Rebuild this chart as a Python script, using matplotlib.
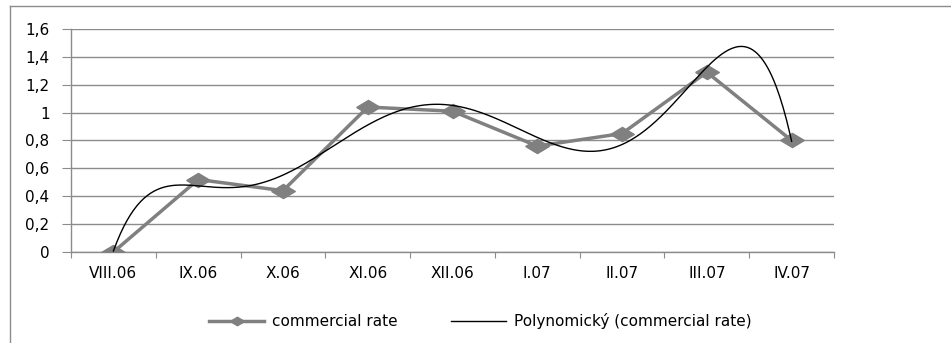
import numpy as np
import matplotlib.pyplot as plt
from matplotlib.lines import Line2D

months = ["VIII.06", "IX.06", "X.06", "XI.06", "XII.06", "I.07", "II.07", "III.07", "IV.07"]
commercial_rate = [0.0, 0.52, 0.44, 1.04, 1.01, 0.76, 0.85, 1.29, 0.80]
y_ticks = [0, 0.2, 0.4, 0.6, 0.8, 1.0, 1.2, 1.4, 1.6]
y_labels = ["0", "0,2", "0,4", "0,6", "0,8", "1", "1,2", "1,4", "1,6"]

plt.rcParams["font.family"] = ["DejaVu Sans"]
grey = "#808080"
axis_grey = "#8c8c8c"
fs = 11

# flattened diamond marker
wide_diamond = [(-1, 0), (0, 0.6), (1, 0), (0, -0.6), (-1, 0)]

fig = plt.figure(figsize=(9.51, 3.43), dpi=100)
ax = fig.add_axes([0.0747, 0.2653, 0.8023, 0.6502])

x = np.arange(len(months))
# polynomial trendline (order 6)
coef = np.polyfit(x, commercial_rate, 6)
xs = np.linspace(0, len(months) - 1, 400)
trend = np.polyval(coef, xs)

ax.plot(x, commercial_rate, color=grey, lw=2.5, marker=wide_diamond, ms=17,
        mfc=grey, mec=grey, label="commercial rate", zorder=3)
ax.plot(xs, trend, color="black", lw=1.0,
        label="Polynomický (commercial rate)", zorder=4)

ax.set_xlim(-0.5, len(months) - 0.5)
ax.set_ylim(0, 1.6)
ax.set_yticks(y_ticks)
ax.set_yticklabels(y_labels)
ax.yaxis.grid(True, color=axis_grey, lw=1)
ax.set_axisbelow(True)

ax.set_xticks(np.arange(-0.5, len(months), 1.0))
ax.set_xticklabels([])
ax.set_xticks(x, minor=True)
ax.set_xticklabels(months, minor=True)
ax.tick_params(axis="x", which="major", direction="out", length=4, color=axis_grey)
ax.tick_params(axis="x", which="minor", length=0, pad=10, labelsize=fs)
ax.tick_params(axis="y", direction="out", length=6.5, color=axis_grey, pad=9, labelsize=fs)

for side in ["top", "right"]:
    ax.spines[side].set_visible(False)
for side in ["left", "bottom"]:
    ax.spines[side].set_color(axis_grey)
    ax.spines[side].set_linewidth(1)

fig.legend(loc="center", bbox_to_anchor=(0.505, 0.064), ncol=2, frameon=False,
           fontsize=fs, handlelength=3.6, columnspacing=3.5, handletextpad=0.5,
           markerscale=0.6)

# chart area border
fig.add_artist(Line2D([10 / 951, 1], [1 - 6 / 343, 1 - 6 / 343], color=axis_grey, lw=1,
                      transform=fig.transFigure))
fig.add_artist(Line2D([10 / 951, 10 / 951], [0, 1 - 6 / 343], color=axis_grey, lw=1,
                      transform=fig.transFigure))

fig.savefig("out.png", dpi=100)
